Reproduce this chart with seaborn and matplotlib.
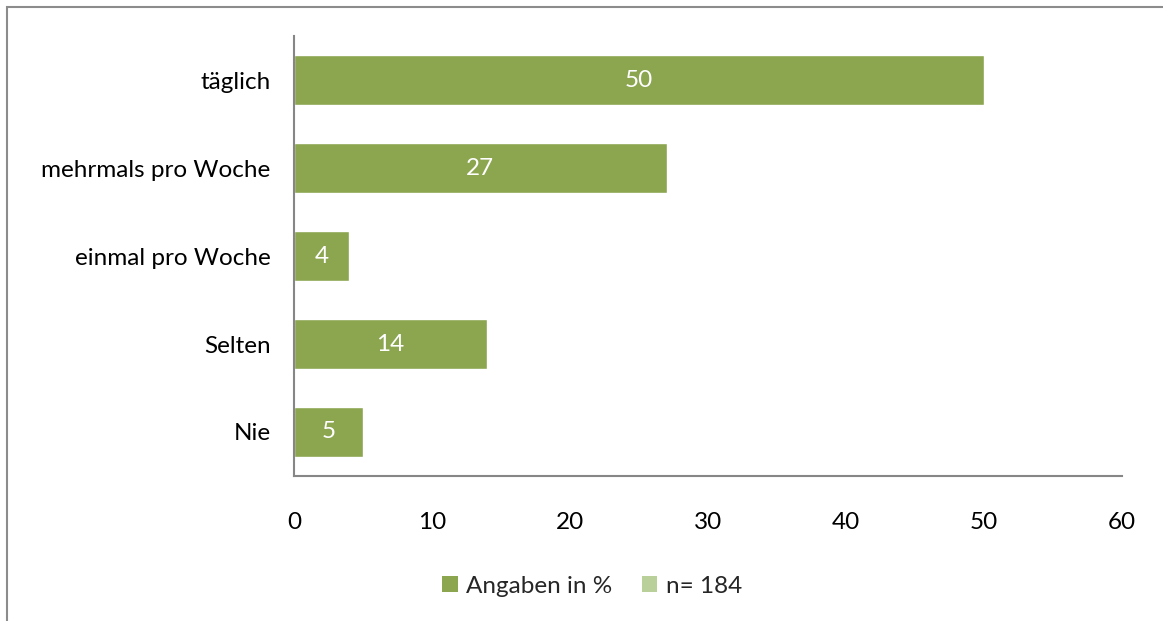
import matplotlib
matplotlib.use("Agg")
import matplotlib.pyplot as plt
from matplotlib.patches import Patch, Rectangle
import seaborn as sns
import pandas as pd

categories = ["täglich", "mehrmals pro Woche", "einmal pro Woche", "Selten", "Nie"]
values = [50, 27, 4, 14, 5]
legend_labels = ["Angaben in %", "n= 184"]
xticks = [0, 10, 20, 30, 40, 50, 60]

bar_color = "#8BA64F"
light_color = "#B9D09A"

sns.set_theme(style="white")
plt.rcParams["font.family"] = ["Lato", "DejaVu Sans"]
FS = 17.5

df = pd.DataFrame({"Kategorie": categories, "Wert": values})

fig = plt.figure(figsize=(11.63, 6.21), dpi=100)
ax = fig.add_axes([0.2528, 0.2335, 0.7119, 0.7085])

sns.barplot(data=df, y="Kategorie", x="Wert", orient="h", color=bar_color,
            saturation=1, width=0.57, ax=ax)

for patch, v in zip(ax.patches, values):
    cy = patch.get_y() + patch.get_height() / 2
    ax.text(v / 2, cy, str(v), ha="center", va="center", color="white", fontsize=FS)

ax.set_xlim(0, 60)
ax.set_ylim(4.5, -0.5)
ax.set_xticks(xticks)
ax.set_xlabel("")
ax.set_ylabel("")
ax.tick_params(axis="both", length=0, labelsize=FS, colors="black")
ax.tick_params(axis="x", pad=26)
ax.tick_params(axis="y", pad=17)
for s in ["top", "right"]:
    ax.spines[s].set_visible(False)
for s in ["left", "bottom"]:
    ax.spines[s].set_color("#868686")
    ax.spines[s].set_linewidth(1.5)

handles = [Patch(facecolor=bar_color, edgecolor="none"),
           Patch(facecolor=light_color, edgecolor="none")]
fig.legend(handles, legend_labels, loc="center", bbox_to_anchor=(0.509, 0.056),
           ncol=2, frameon=False, fontsize=FS, handlelength=0.65, handleheight=0.65,
           handletextpad=0.35, columnspacing=1.2)

# outer frame
fig.patches.append(Rectangle((7 / 1163, -0.1), 1.2, 1 - 7 / 621 + 0.1,
                             transform=fig.transFigure, fill=False,
                             edgecolor="#8C8C8C", linewidth=1.5))

fig.savefig("out.png", dpi=100)
